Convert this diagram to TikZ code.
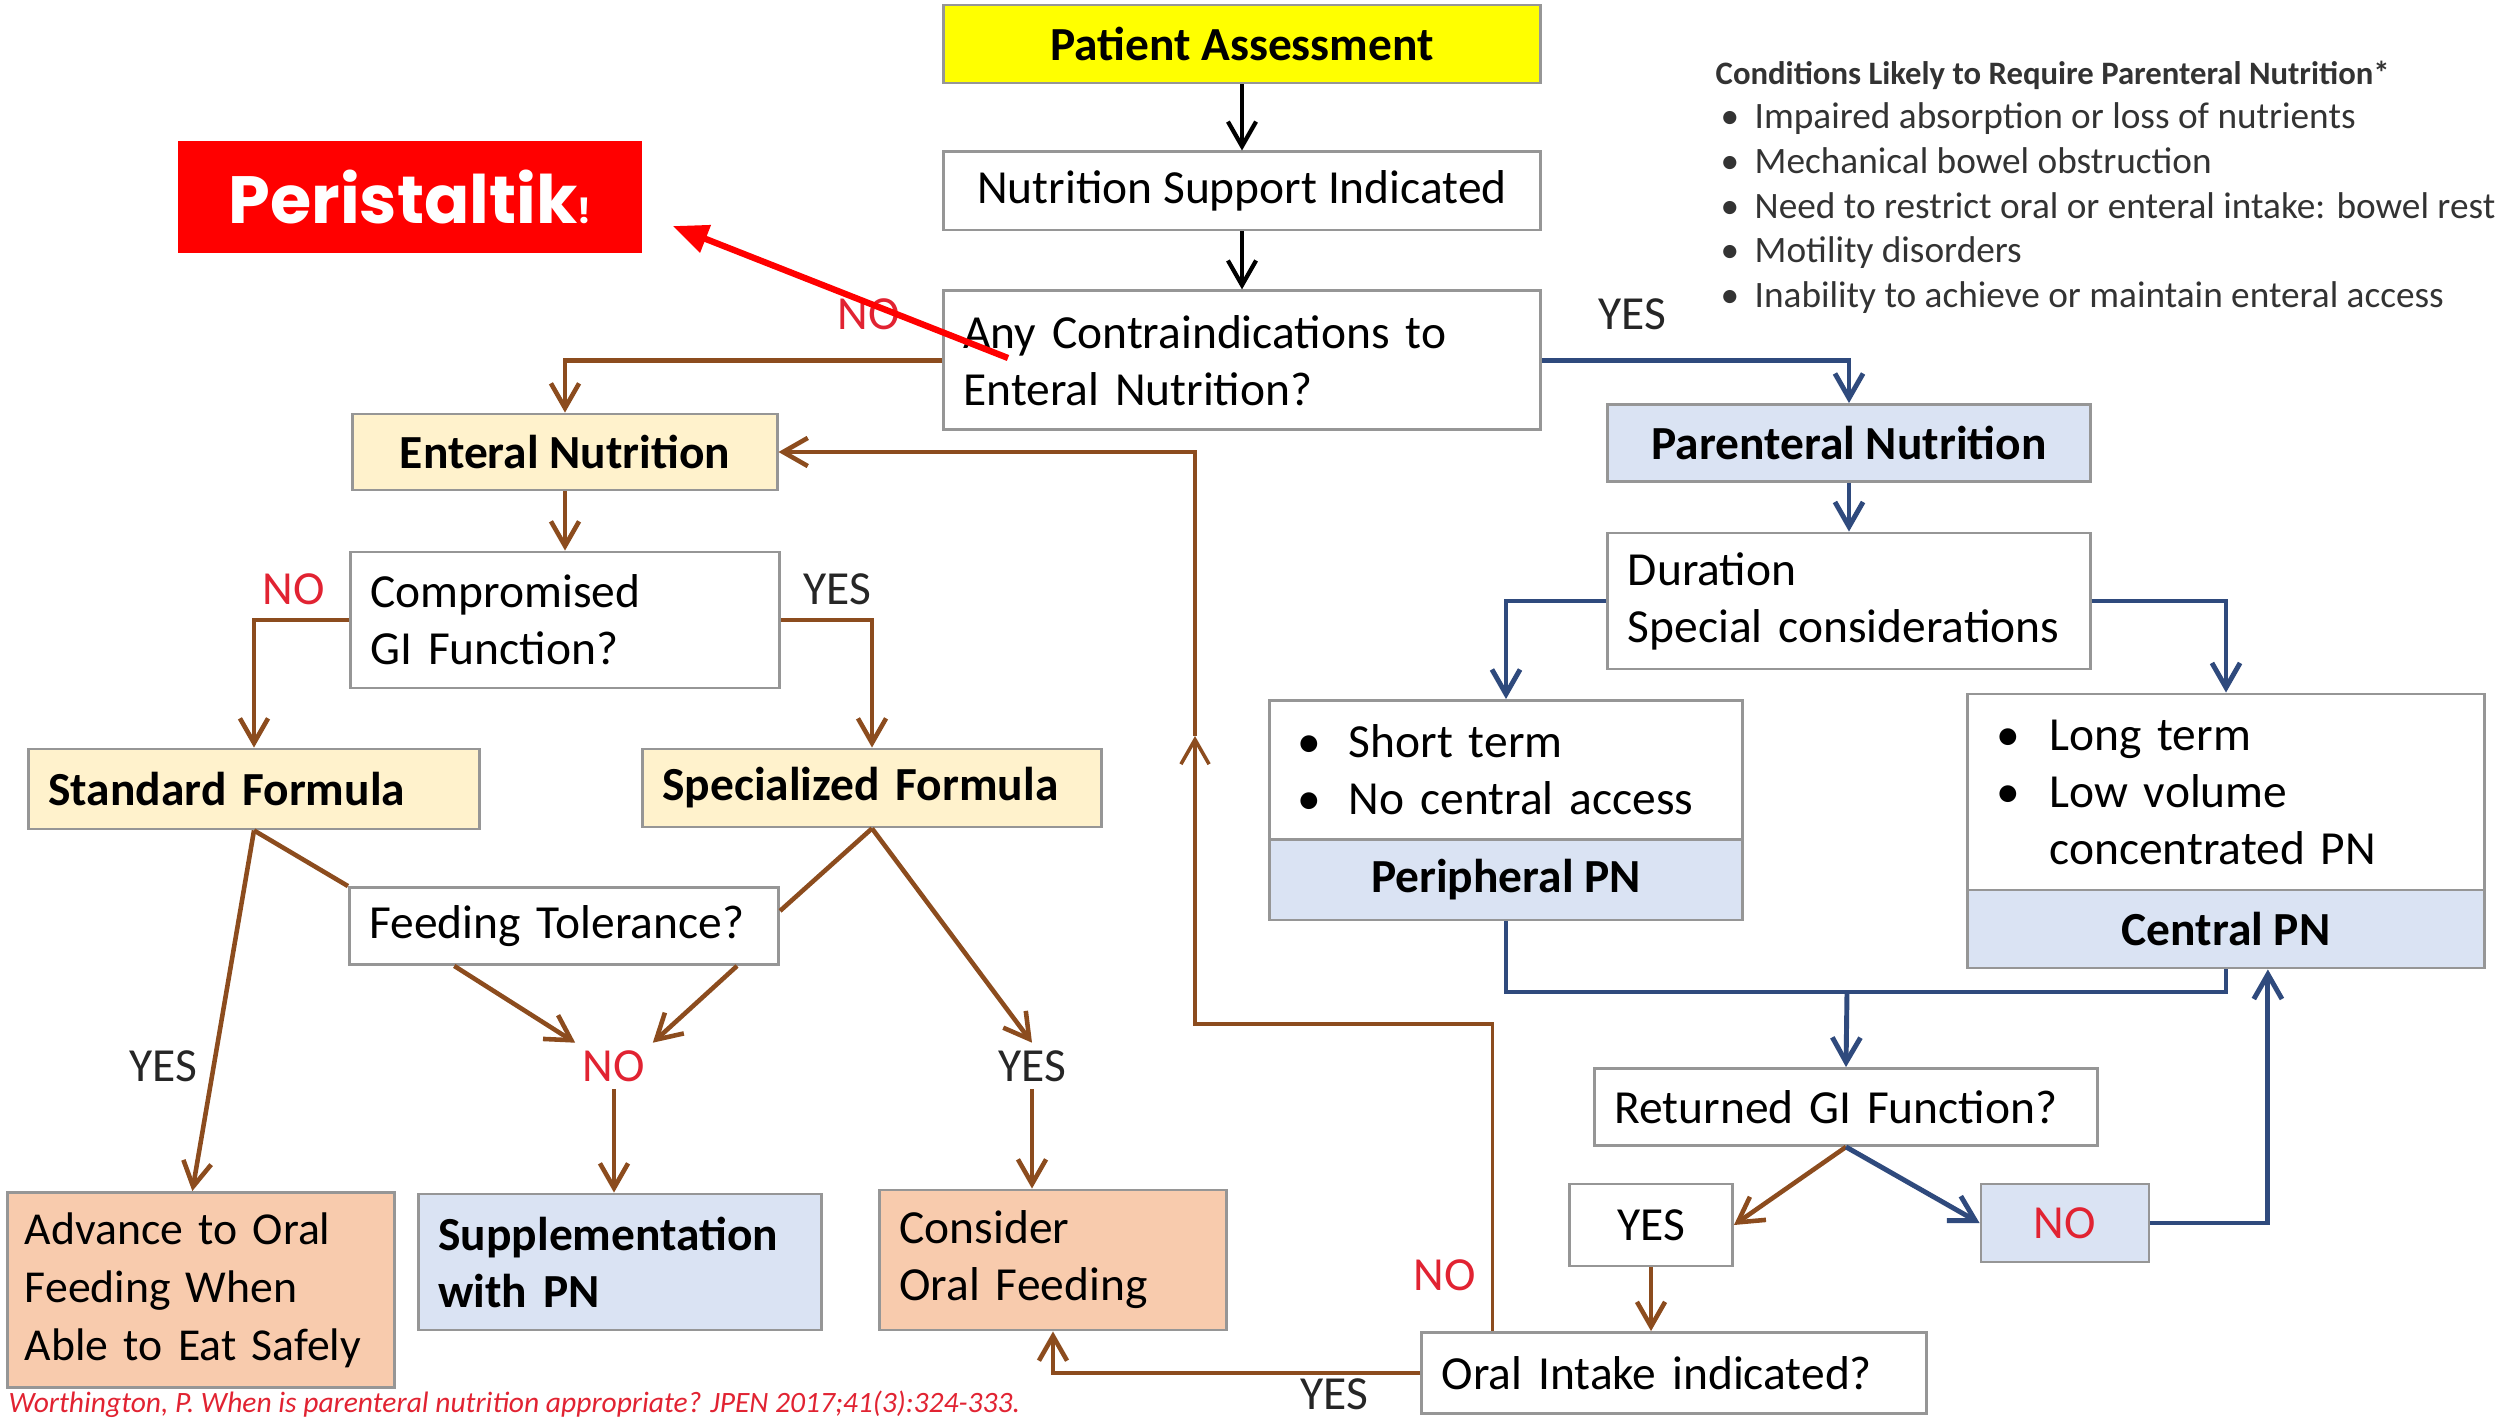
\documentclass[tikz,border=0pt]{standalone}
\usepackage{fontspec}
\setmainfont{Carlito}
\newfontfamily\perifont{Poppins}
\usepackage{tikz}
\usetikzlibrary{positioning,arrows.meta}

\definecolor{boxgray}{RGB}{150,150,150}
\definecolor{brightyellow}{RGB}{255,255,0}
\definecolor{paleyellow}{RGB}{255,242,204}
\definecolor{paleblue}{RGB}{218,227,243}
\definecolor{salmon}{RGB}{248,203,173}
\definecolor{brownline}{RGB}{140,76,30}
\definecolor{blueline}{RGB}{47,74,125}
\definecolor{nored}{RGB}{225,35,50}
\definecolor{peri}{RGB}{255,0,0}

\begin{document}
\begin{tikzpicture}[x=0.01cm, y=-0.01cm, font=\fontsize{13.5}{16.2}\selectfont,
        >={Straight Barb[length=7pt,width=8pt]},
        plainbox/.style={rectangle, draw=boxgray, line width=0.8pt, fill=white, inner sep=0pt, align=center},
        leftbox/.style={rectangle, draw=boxgray, line width=0.8pt, fill=white, inner xsep=0.2cm, inner ysep=0pt, align=left},
        yeslabel/.style={inner sep=2pt, text=black!85},
        nolabel/.style={inner sep=2pt, text=nored},
        blackarrow/.style={->, draw=black, line width=1.2pt},
        brownarrow/.style={->, draw=brownline, line width=1.3pt},
        brownplain/.style={draw=brownline, line width=1.3pt},
        bluearrow/.style={->, draw=blueline, line width=1.4pt},
        blueplain/.style={draw=blueline, line width=1.4pt},
        redarrow/.style={-{Triangle[length=10pt,width=8pt]}, draw=peri, line width=1.8pt}]

        \useasboundingbox (0,0) rectangle (2509,1418);
        \clip (0,0) rectangle (2509,1418);

        % top chain
        \node[plainbox, fill=brightyellow, minimum width=5.97cm, minimum height=0.78cm] (assess) at (1242,44) {\textbf{Patient Assessment}};
        \node[plainbox, minimum width=5.97cm, minimum height=0.78cm] (support) [below=0.66cm of assess] {Nutrition Support Indicated};
        \node[leftbox, text width=5.57cm, minimum height=1.39cm] (contra) [below=0.58cm of support] {Any Contraindications to\\Enteral Nutrition?};

        \node[fill=peri, inner sep=0pt, minimum width=4.64cm, minimum height=1.11cm, text=white] (peri) at (410,197) {\perifont\bfseries\fontsize{19}{19}\selectfont Peristaltik{\fontsize{10}{10}\selectfont!}};

        \node[anchor=north west, inner sep=0pt, align=left, text=black!80, font=\fontsize{10.6}{12.7}\selectfont] (cond) at (1715,60) {{\fontsize{9.3}{12.7}\selectfont\bfseries Conditions Likely to Require Parenteral Nutrition*}\\
        \makebox[0.39cm][l]{\hspace{0.05cm}\textbullet}Impaired absorption or loss of nutrients\\
        \makebox[0.39cm][l]{\hspace{0.05cm}\textbullet}Mechanical bowel obstruction\\
        \makebox[0.39cm][l]{\hspace{0.05cm}\textbullet}Need to restrict oral or enteral intake: bowel rest\\
        \makebox[0.39cm][l]{\hspace{0.05cm}\textbullet}Motility disorders\\
        \makebox[0.39cm][l]{\hspace{0.05cm}\textbullet}Inability to achieve or maintain enteral access};

        % enteral side
        \node[plainbox, fill=paleyellow, minimum width=4.24cm, minimum height=0.76cm] (enteral) at (565,452) {\textbf{Enteral Nutrition}};
        \node[leftbox, text width=3.89cm, minimum height=1.36cm] (compro) at (565,620) {Compromised\\GI Function?};
        \node[leftbox, fill=paleyellow, text width=4.11cm, minimum height=0.80cm] (standard) at (254,789) {\textbf{Standard Formula}};
        \node[leftbox, fill=paleyellow, text width=4.19cm, minimum height=0.78cm] (special) at (872,788) {\textbf{Specialized Formula}};
        \node[leftbox, text width=3.89cm, minimum height=0.77cm] (feeding) at (564,926) {Feeding Tolerance?};
        \node[leftbox, fill=salmon, inner xsep=0.17cm, text width=3.52cm, minimum height=1.95cm, font=\fontsize{13}{16.5}\selectfont] (advance) at (201,1290) {Advance to Oral\\Feeding When\\Able~to~Eat~Safely};
        \node[leftbox, fill=paleblue, text width=3.63cm, minimum height=1.36cm] (supplem) at (620,1262) {\textbf{Supplementation}\\\textbf{with PN}};
        \node[leftbox, fill=salmon, text width=3.07cm, minimum height=1.40cm] (consider) at (1053,1260) {Consider\\Oral Feeding};

        % parenteral side
        \node[plainbox, fill=paleblue, minimum width=4.82cm, minimum height=0.77cm] (parent) at (1849,443) {\textbf{Parenteral Nutrition}};
        \node[leftbox, text width=4.42cm, minimum height=1.36cm] (durat) at (1849,601) {Duration\\Special considerations};
        \node[leftbox, inner xsep=0.28cm, text width=4.16cm, minimum height=1.39cm] (periphtop) at (1506,770) {\makebox[0.51cm][l]{\textbullet}Short term\\\makebox[0.51cm][l]{\textbullet}No central access};
        \node[plainbox, fill=paleblue, minimum width=4.72cm, minimum height=0.80cm] (periphPN) at (1506,880) {\textbf{Peripheral PN}};
        \node[leftbox, inner xsep=0.29cm, text width=4.59cm, minimum height=1.96cm] (centraltop) at (2226,792) {\makebox[0.53cm][l]{\textbullet}Long term\\\makebox[0.53cm][l]{\textbullet}Low volume\\\makebox[0.53cm][l]{}concentrated PN};
        \node[plainbox, fill=paleblue, minimum width=5.17cm, minimum height=0.78cm] (centralPN) at (2226,929) {\textbf{Central PN}};
        \node[leftbox, text width=4.63cm, minimum height=0.77cm] (returned) at (1846,1107) {Returned GI Function?};
        \node[plainbox, minimum width=1.63cm, minimum height=0.82cm] (yesbox) at (1651,1225) {YES};
        \node[plainbox, fill=paleblue, minimum width=1.68cm, minimum height=0.78cm, text=nored] (nobox) at (2065,1223) {NO};
        \node[leftbox, text width=4.64cm, minimum height=0.81cm] (oral) at (1674,1373) {Oral Intake indicated?};

        % yes / no labels
        \node[nolabel] (no1) at (869,314) {NO};
        \node[yeslabel] (yes1) at (1632,314) {YES};
        \node[nolabel] (no2) at (294,589) {NO};
        \node[yeslabel] (yes2) at (837,589) {YES};
        \node[yeslabel] (yes3) at (163,1066) {YES};
        \node[nolabel] (no3) at (614,1066) {NO};
        \node[yeslabel] (yes4) at (1032,1066) {YES};
        \node[nolabel] (no4) at (1445,1275) {NO};
        \node[yeslabel] (yes5) at (1334,1394) {YES};

        \node[anchor=base west, inner sep=0pt, text=nored, font=\fontsize{8.4}{8.4}\selectfont\itshape] (source) at (8,1412) {Worthington, P. When is parenteral nutrition appropriate? JPEN 2017;41(3):324-333.};

        % connectors
        \draw[blackarrow] (assess) -- (support);
        \draw[blackarrow] (support) -- (contra);
        \draw[brownarrow] (contra.west) -| (enteral.north);
        \draw[bluearrow] (contra.east) -| (parent.north);
        \draw[bluearrow] (parent) -- (durat);
        \draw[bluearrow] (durat.west) -| (periphtop.north);
        \draw[bluearrow] (durat.east) -| (centraltop.north);

        \draw[brownarrow] (enteral) -- (compro);
        \draw[brownarrow] (compro.west) -| (standard.north);
        \draw[brownarrow] (compro.east) -| (special.north);
        \draw[brownplain] (standard.south) -- (feeding.north west);
        \draw[brownplain] (special.south) -- (feeding.4);
        \draw[brownarrow] (standard.south) -- (advance.95);
        \draw[brownarrow] (feeding.200) -- (no3.north west);
        \draw[brownarrow] (feeding.-13) -- (no3.north east);
        \draw[brownarrow] (no3.south) -- (no3.south |- supplem.north);
        \draw[brownarrow] (special.south) -- (yes4.north);
        \draw[brownarrow] (yes4.south) -- (yes4.south |- consider.north);

        \coordinate (join) at (1847,992);
        \draw[blueplain] (periphPN.south) |- (join);
        \draw[blueplain] (centralPN.south) |- (join);
        \draw[bluearrow] (join) -- (returned.north);
        \draw[brownarrow] (returned.south) -- (yesbox.east);
        \draw[bluearrow] (returned.south) -- (nobox.west);
        \draw[bluearrow] (nobox.east) -| (centralPN.-44);
        \draw[brownarrow] (yesbox.south) -- (yesbox.south |- oral.north);
        \draw[brownarrow] (oral.west) -| (consider.south);

        \coordinate (loopa) at (1195,1024);
        \coordinate (loopb) at (1195,736);
        \draw[brownarrow, line width=1pt] (oral.167) |- (loopa) -- (loopb);
        \draw[brownarrow] (loopb) |- (enteral.east);

        \coordinate (redtail) at (1008,358);
        \draw[redarrow] (redtail) -- ([xshift=0.3cm,yshift=-0.29cm]peri.east);

\end{tikzpicture}
\end{document}
